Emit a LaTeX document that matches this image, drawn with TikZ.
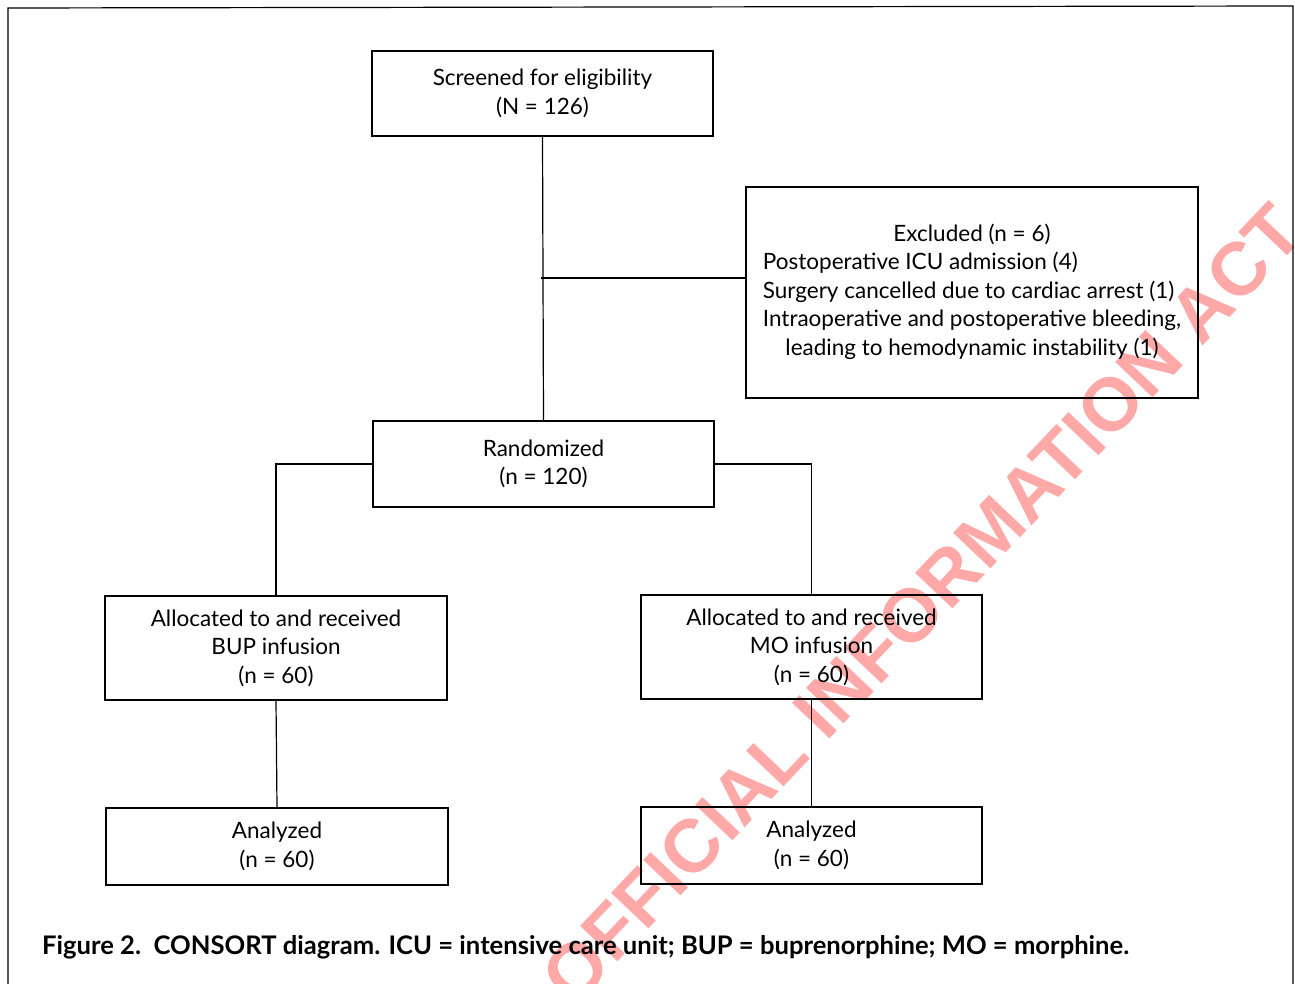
\documentclass[tikz,border=0pt]{standalone}
\usepackage{fontspec}
\setmainfont{Lato}
\newfontfamily\wmfont{Liberation Sans}
\definecolor{wmred}{HTML}{FFA8A8}
\begin{document}
\begin{tikzpicture}[x=1pt,y=-1pt,
  box/.style={draw, line width=1.2pt, rectangle, inner sep=0pt, align=center,
    font=\fontsize{22.5}{28.5}\selectfont},
  conn/.style={line width=1.2pt}]
\useasboundingbox (0,0) rectangle (1295,984);
% watermark
\node[text=wmred, rotate=46.5, font=\wmfont\bfseries\fontsize{75}{78}\selectfont] (wm) at (922,604) {OFFICIAL INFORMATION ACT};
% frame
\draw[line width=1.2pt] (8,990) -- (8,8) -- (1293,6) -- (1293,990);
% boxes
\node[box, minimum width=341pt, minimum height=85pt] (scr) at (542.5,93.5) {Screened for eligibility\\(N = 126)};
\node[box, minimum width=452pt, minimum height=211pt] (exc) at (972,292.5) {\begin{tabular}{@{}l@{}}
\multicolumn{1}{@{}c@{}}{Excluded (n = 6)}\\
Postoperative ICU admission (4)\\
Surgery cancelled due to cardiac arrest (1)\\
Intraoperative and postoperative bleeding,\\
\multicolumn{1}{@{}c@{}}{leading to hemodynamic instability (1)}
\end{tabular}};
\node[box, minimum width=341pt, minimum height=86pt] (rnd) at (543.5,464) {Randomized\\(n = 120)};
\node[box, minimum width=342pt, minimum height=104pt] (bup) at (276,648) {Allocated to and received\\BUP infusion\\(n = 60)};
\node[box, minimum width=341pt, minimum height=104pt] (mo) at (811.5,647) {Allocated to and received\\MO infusion\\(n = 60)};
\node[box, minimum width=342pt, minimum height=77pt] (anb) at (277,846.5) {Analyzed\\(n = 60)};
\node[box, minimum width=341pt, minimum height=77pt] (anm) at (811.5,845.5) {Analyzed\\(n = 60)};
% connectors
\coordinate (j) at (541,278);
\draw[conn] (scr.south) -- (rnd.north);
\draw[conn] (j) -- (j -| exc.west);
\draw[conn] (rnd.west) -| (bup.north);
\draw[conn] (rnd.east) -| (mo.north);
\draw[conn] (bup.south) -- (anb.north);
\draw[conn] (mo.south) -- (anm.north);
% caption
\node[anchor=west, inner sep=0pt, font=\bfseries\fontsize{25.6}{28}\selectfont] (cap) at (42,947) {Figure 2.\ \ CONSORT diagram. ICU = intensive care unit; BUP = buprenorphine; MO = morphine.};
\end{tikzpicture}
\end{document}
